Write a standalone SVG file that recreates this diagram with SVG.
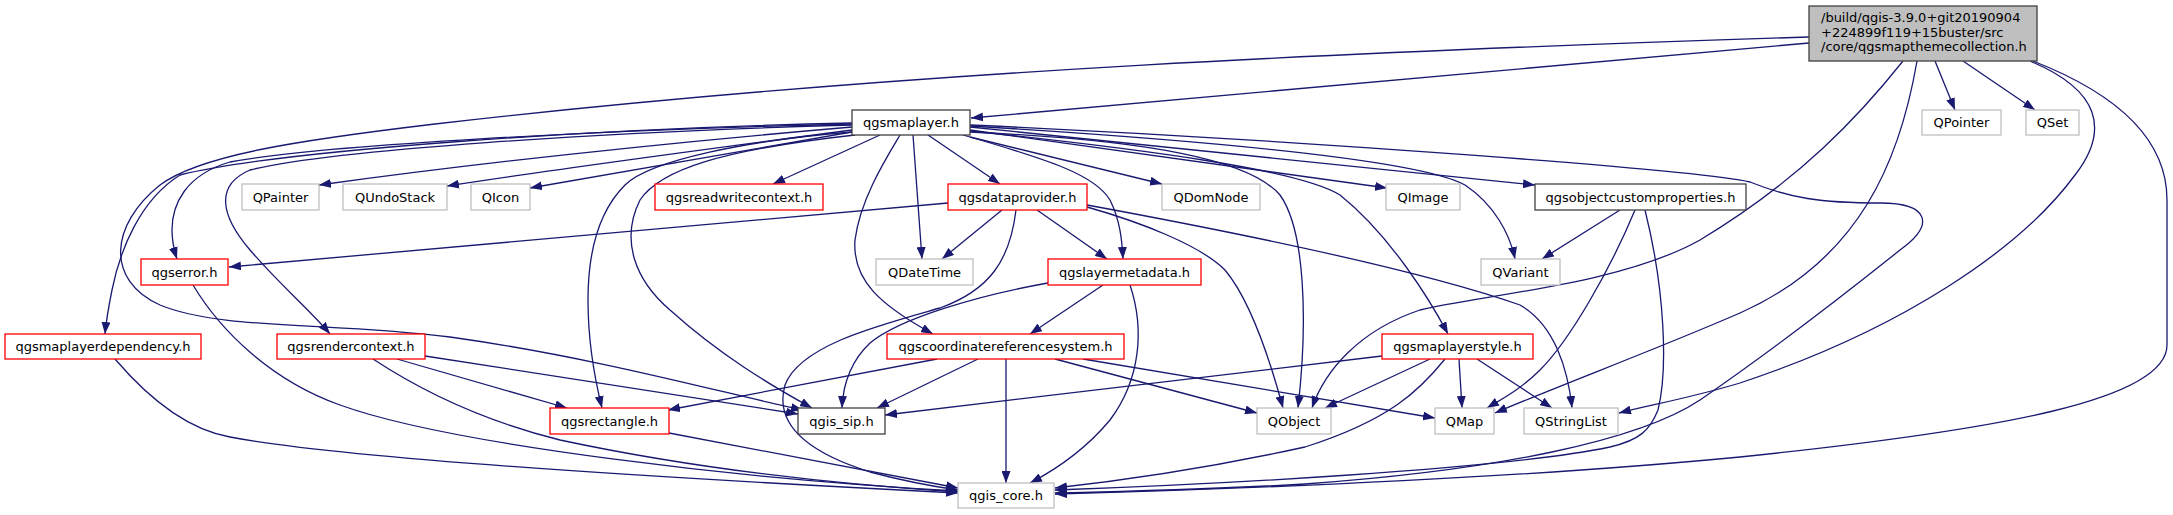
<svg xmlns="http://www.w3.org/2000/svg" width="2173" height="515" viewBox="0 0 2173 515">
<defs>
<marker id="a" markerUnits="userSpaceOnUse" markerWidth="12" markerHeight="9" viewBox="0 0 12 9" refX="12" refY="4.5" orient="auto">
<path d="M0,0 L12,4.5 L0,9 z" fill="#191970"/>
</marker>
<style>
.e path{fill:none;stroke:#191970;stroke-width:1.3;marker-end:url(#a)}
rect{fill:#fff;stroke-width:1.3}
.red rect{stroke:#ff0000}
.gray rect{stroke:#bfbfbf}
.blk rect{stroke:#404040}
text{font-family:"DejaVu Sans","Liberation Sans",sans-serif;font-size:13px;fill:#000;text-anchor:middle}
</style>
</defs>
<rect x="0" y="0" width="2173" height="515" fill="#fff" stroke="none"/>
<g id="connectors" class="e">
<!-- main -->
<path d="M1809,43 L971,118"/>
<path d="M1809,37 C1400,50 900,70 435,124 C300,140 200,155 160,185 C110,225 105,280 160,305 C220,330 330,322 450,337 C600,358 730,395 803,410"/>
<path d="M1935,61 L1955,110"/>
<path d="M1963,61 L2035,110"/>
<path d="M1903,61 C1860,115 1800,180 1700,240 C1620,285 1480,295 1420,310 C1360,330 1325,370 1312,408"/>
<path d="M1917,61 C1900,160 1860,260 1740,313 C1650,352 1560,385 1495,413"/>
<path d="M2030,61 C2100,90 2110,130 2075,175 C2020,250 1900,330 1740,383 C1690,398 1650,405 1619,413"/>
<path d="M2033,61 C2120,95 2167,140 2167,200 L2167,345 C2167,400 2000,430 1740,457 C1500,480 1200,490 1055,494"/>
<!-- qgsmaplayer.h -->
<path d="M852,127 C700,140 500,160 319,185"/>
<path d="M852,130 C700,150 550,170 447,186"/>
<path d="M852,132 C720,155 600,175 530,188"/>
<path d="M880,135 L773,184"/>
<path d="M852,124 C600,130 320,145 230,162 C185,175 172,205 172,230 C172,240 174,250 177,259"/>
<path d="M852,123 C600,128 280,150 180,175 C140,200 120,250 112,290 C108,310 106,322 105,334"/>
<path d="M852,125 C600,132 330,150 250,170 C215,185 220,215 250,250 C280,285 310,310 330,334"/>
<path d="M852,132 C750,140 650,160 625,185 C595,215 588,260 588,300 C588,340 595,380 602,408"/>
<path d="M855,135 C720,150 660,170 640,200 C620,240 635,280 670,310 C720,355 770,385 812,408"/>
<path d="M900,135 C885,160 860,200 855,240 C852,280 880,305 933,334"/>
<path d="M913,135 L922,259"/>
<path d="M928,135 L1000,184"/>
<path d="M963,135 C1050,160 1095,175 1110,200 C1120,220 1122,240 1123,259"/>
<path d="M970,137 L1162,184"/>
<path d="M970,130 L1387,188"/>
<path d="M970,127 L1535,185"/>
<path d="M970,126 C1200,140 1420,160 1465,185 C1495,205 1510,235 1515,259"/>
<path d="M970,131 C1150,150 1300,170 1340,195 C1390,235 1430,300 1448,334"/>
<path d="M970,132 C1150,140 1250,160 1280,195 C1305,230 1308,320 1298,408"/>
<path d="M970,125 C1300,140 1700,170 1750,182 C1790,198 1820,203 1880,203 C1930,203 1935,225 1900,250 C1850,290 1780,345 1700,400 C1640,440 1500,470 1305,484 C1200,490 1100,492 1055,493"/>
<!-- qgsdataprovider.h -->
<path d="M948,203 L229,267"/>
<path d="M1002,210 L942,259"/>
<path d="M1037,210 L1107,259"/>
<path d="M1016,210 C1010,260 990,290 940,308 C880,325 800,345 785,385 C775,420 800,450 870,472 C900,480 930,486 958,490"/>
<path d="M1087,207 C1140,222 1200,245 1225,270 C1250,300 1270,360 1283,408"/>
<path d="M1087,205 C1250,235 1420,270 1520,305 C1555,325 1568,370 1572,408"/>
<!-- qgslayermetadata.h -->
<path d="M1103,285 L1030,334"/>
<path d="M1130,285 C1145,330 1140,380 1110,420 C1085,450 1055,470 1030,483"/>
<path d="M1048,283 C980,295 900,318 870,343 C850,362 843,385 842,408"/>
<!-- qgscoordinatereferencesystem.h -->
<path d="M937,359 L668,410"/>
<path d="M978,359 L877,408"/>
<path d="M1006,359 L1006,483"/>
<path d="M1055,359 L1257,413"/>
<path d="M1083,359 L1435,418"/>
<!-- qgsrendercontext.h -->
<path d="M397,359 L567,408"/>
<path d="M425,356 L798,414"/>
<path d="M373,359 C420,390 480,420 560,440 C700,470 850,485 958,492"/>
<!-- others -->
<path d="M193,285 C220,330 270,380 340,405 C450,445 750,480 958,491"/>
<path d="M115,359 C150,400 190,430 230,437 C350,460 700,480 958,493"/>
<path d="M669,433 L958,488"/>
<!-- qgsobjectcustomproperties.h -->
<path d="M1620,210 L1542,259"/>
<path d="M1635,210 C1610,270 1570,340 1540,370 C1520,390 1500,400 1487,408"/>
<path d="M1645,210 C1665,290 1668,370 1658,410 C1650,430 1640,440 1610,447 C1500,470 1200,485 1055,490"/>
<!-- qgsmaplayerstyle.h -->
<path d="M1382,356 L885,415"/>
<path d="M1430,359 L1325,408"/>
<path d="M1445,359 C1420,390 1390,420 1305,447 C1200,470 1100,483 1055,488"/>
<path d="M1459,359 L1462,408"/>
<path d="M1477,359 L1552,408"/>
</g>
<g id="node-main"><rect x="1809" y="6" width="228" height="55" style="fill:#bfbfbf;stroke:#404040"/>
<text x="1821" y="22" style="text-anchor:start">/build/qgis-3.9.0+git20190904</text>
<text x="1821" y="36.5" style="text-anchor:start">+224899f119+15buster/src</text>
<text x="1821" y="51" style="text-anchor:start">/core/qgsmapthemecollection.h</text></g>
<g id="node-qgsmaplayer" class="blk"><rect x="852" y="110" width="118" height="25"/><text x="911" y="127">qgsmaplayer.h</text></g>
<g id="node-QPointer" class="gray"><rect x="1922" y="110" width="79" height="25"/><text x="1961.5" y="127">QPointer</text></g>
<g id="node-QSet" class="gray"><rect x="2026" y="110" width="53" height="25"/><text x="2052.5" y="127">QSet</text></g>
<g id="node-QPainter" class="gray"><rect x="242" y="184" width="77" height="26"/><text x="280.5" y="201.5">QPainter</text></g>
<g id="node-QUndoStack" class="gray"><rect x="343" y="184" width="104" height="26"/><text x="395" y="201.5">QUndoStack</text></g>
<g id="node-QIcon" class="gray"><rect x="471" y="184" width="59" height="26"/><text x="500.5" y="201.5">QIcon</text></g>
<g id="node-qgsreadwritecontext" class="red"><rect x="655" y="184" width="168" height="26"/><text x="739" y="201.5">qgsreadwritecontext.h</text></g>
<g id="node-qgsdataprovider" class="red"><rect x="948" y="184" width="139" height="26"/><text x="1017.5" y="201.5">qgsdataprovider.h</text></g>
<g id="node-QDomNode" class="gray"><rect x="1162" y="184" width="98" height="26"/><text x="1211" y="201.5">QDomNode</text></g>
<g id="node-QImage" class="gray"><rect x="1386" y="184" width="74" height="26"/><text x="1423" y="201.5">QImage</text></g>
<g id="node-qgsobjectcustomproperties" class="blk"><rect x="1535" y="184" width="211" height="26"/><text x="1640.5" y="201.5">qgsobjectcustomproperties.h</text></g>
<g id="node-qgserror" class="red"><rect x="141" y="259" width="87" height="26"/><text x="184.5" y="276.5">qgserror.h</text></g>
<g id="node-QDateTime" class="gray"><rect x="876" y="259" width="97" height="26"/><text x="924.5" y="276.5">QDateTime</text></g>
<g id="node-qgslayermetadata" class="red"><rect x="1048" y="259" width="153" height="26"/><text x="1124.5" y="276.5">qgslayermetadata.h</text></g>
<g id="node-QVariant" class="gray"><rect x="1481" y="259" width="79" height="26"/><text x="1520.5" y="276.5">QVariant</text></g>
<g id="node-qgsmaplayerdependency" class="red"><rect x="5" y="334" width="196" height="25"/><text x="103" y="351">qgsmaplayerdependency.h</text></g>
<g id="node-qgsrendercontext" class="red"><rect x="277" y="334" width="148" height="25"/><text x="351" y="351">qgsrendercontext.h</text></g>
<g id="node-qgscoordinatereferencesystem" class="red"><rect x="887" y="334" width="237" height="25"/><text x="1005.5" y="351">qgscoordinatereferencesystem.h</text></g>
<g id="node-qgsmaplayerstyle" class="red"><rect x="1382" y="334" width="151" height="25"/><text x="1457.5" y="351">qgsmaplayerstyle.h</text></g>
<g id="node-qgsrectangle" class="red"><rect x="550" y="408" width="119" height="26"/><text x="609.5" y="425.5">qgsrectangle.h</text></g>
<g id="node-qgis_sip" class="blk"><rect x="798" y="408" width="87" height="26"/><text x="841.5" y="425.5">qgis_sip.h</text></g>
<g id="node-QObject" class="gray"><rect x="1257" y="408" width="74" height="26"/><text x="1294" y="425.5">QObject</text></g>
<g id="node-QMap" class="gray"><rect x="1435" y="408" width="59" height="26"/><text x="1464.5" y="425.5">QMap</text></g>
<g id="node-QStringList" class="gray"><rect x="1524" y="408" width="94" height="26"/><text x="1571" y="425.5">QStringList</text></g>
<g id="node-qgis_core" class="gray"><rect x="958" y="483" width="96" height="25"/><text x="1006" y="500">qgis_core.h</text></g>
</svg>
